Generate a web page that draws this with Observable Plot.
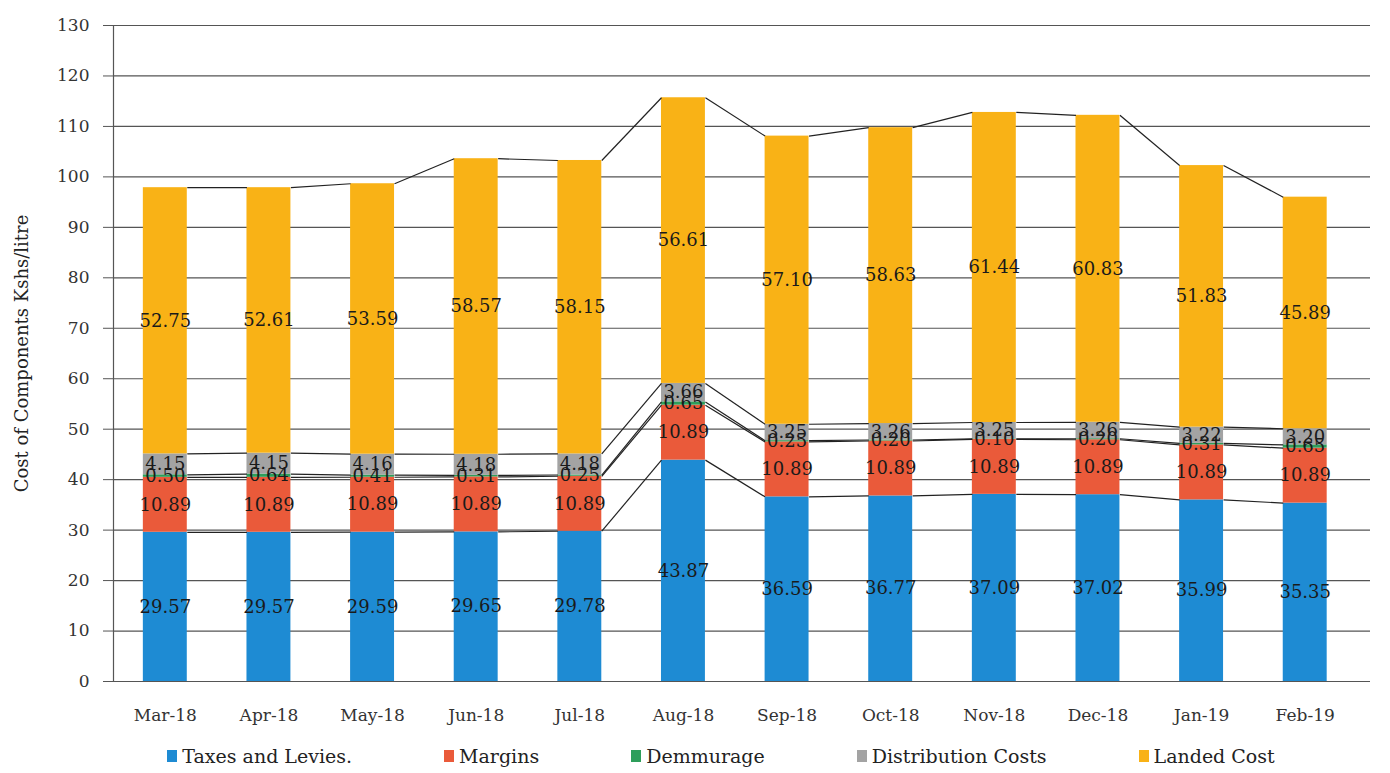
<!DOCTYPE html>
<html>
<head>
<meta charset="utf-8">
<script src="https://cdn.jsdelivr.net/npm/d3@7"></script>
<script src="https://cdn.jsdelivr.net/npm/@observablehq/plot@0.6"></script>
<style>
  html, body { margin: 0; padding: 0; background: #fff; }
  #chart { width: 1390px; }
  #legend { display: flex; justify-content: center; gap: 92px; font-family: "DejaVu Serif", serif; font-size: 19px; color: #222; height: 35px; align-items: center; padding-left: 52px; box-sizing: border-box; width: 1390px; }
  #legend span.item { display: inline-flex; align-items: center; }
  #legend i { display: inline-block; width: 10px; height: 12px; margin-right: 5px; }
</style>
</head>
<body>
<div id="chart"></div>
<div id="legend"></div>
<script>
const months = ["Mar-18", "Apr-18", "May-18", "Jun-18", "Jul-18", "Aug-18", "Sep-18", "Oct-18", "Nov-18", "Dec-18", "Jan-19", "Feb-19"];
const seriesNames = ["Taxes and Levies.", "Margins", "Demmurage", "Distribution Costs", "Landed Cost"];
const seriesColors = ["#1E8BD3", "#EA5A3A", "#2E9E5B", "#A3A3A3", "#F9B216"];
const taxes = [29.57, 29.57, 29.59, 29.65, 29.78, 43.87, 36.59, 36.77, 37.09, 37.02, 35.99, 35.35];
const margins = [10.89, 10.89, 10.89, 10.89, 10.89, 10.89, 10.89, 10.89, 10.89, 10.89, 10.89, 10.89];
const demmurage = [0.50, 0.64, 0.41, 0.31, 0.25, 0.65, 0.25, 0.20, 0.10, 0.20, 0.31, 0.65];
const distribution = [4.15, 4.15, 4.16, 4.18, 4.18, 3.66, 3.25, 3.26, 3.25, 3.26, 3.22, 3.20];
const landed = [52.75, 52.61, 53.59, 58.57, 58.15, 56.61, 57.10, 58.63, 61.44, 60.83, 51.83, 45.89];
const yTicks = [0, 10, 20, 30, 40, 50, 60, 70, 80, 90, 100, 110, 120, 130];

const seriesValues = [taxes, margins, demmurage, distribution, landed];
const rows = [];
months.forEach((m, i) => {
  let base = 0;
  seriesValues.forEach((vals, s) => {
    const v = vals[i];
    rows.push({i, month: m, series: seriesNames[s], s, value: v, y1: base, y2: base + v});
    base += v;
  });
});
const hw = 0.212;
const links = [];
for (let s = 0; s < seriesNames.length; s++) {
  for (let i = 0; i < months.length - 1; i++) {
    const a = rows.find(r => r.i === i && r.s === s);
    const b = rows.find(r => r.i === i + 1 && r.s === s);
    links.push({x1: i + hw, x2: i + 1 - hw, y1: a.y2, y2: b.y2});
  }
}

const font = "DejaVu Serif, serif";
const plot = Plot.plot({
  width: 1390,
  height: 738,
  marginTop: 25,
  marginBottom: 57,
  marginLeft: 113,
  marginRight: 20,
  style: {fontFamily: font, fontSize: "17px", color: "#333", background: "#fff"},
  x: {type: "linear", domain: [-0.5, 11.63], axis: null},
  y: {domain: [0, 130], axis: null},
  color: {domain: seriesNames, range: seriesColors},
  marks: [
    Plot.ruleY(yTicks.filter(t => t > 0), {stroke: "#555", strokeWidth: 1.2}),
    Plot.rect(rows, {x1: d => d.i - hw, x2: d => d.i + hw, y1: "y1", y2: "y2", fill: "series"}),
    Plot.link(links, {x1: "x1", x2: "x2", y1: "y1", y2: "y2", stroke: "#222", strokeWidth: 1.2}),
    Plot.ruleY([0], {stroke: "#555", strokeWidth: 1.2}),
    Plot.ruleX([-0.5], {y1: 0, y2: 130, stroke: "#555", strokeWidth: 1.2}),
    Plot.axisY({ticks: yTicks, tickSize: 10, tickPadding: 14, stroke: "#555", label: null, fontSize: 17}),
    Plot.axisX({ticks: d3.range(months.length), tickFormat: i => months[i], tickSize: 0, tickPadding: 27, label: null, fontSize: 17}),
    Plot.text(rows, {x: "i", y: d => (d.y1 + d.y2) / 2, text: d => d.value.toFixed(2), fill: "#1a1a1a", fontSize: 18, fontFamily: font}),
    Plot.text(["Cost of Components Kshs/litre"], {frameAnchor: "left", dx: -91, rotate: -90, textAnchor: "middle", fontSize: 18, fill: "#222", fontFamily: font})
  ]
});
document.getElementById("chart").appendChild(plot);

const legend = document.getElementById("legend");
seriesNames.forEach((n, k) => {
  const item = document.createElement("span");
  item.className = "item";
  const sw = document.createElement("i");
  sw.style.background = seriesColors[k];
  item.appendChild(sw);
  item.appendChild(document.createTextNode(n));
  legend.appendChild(item);
});
</script>
</body>
</html>
